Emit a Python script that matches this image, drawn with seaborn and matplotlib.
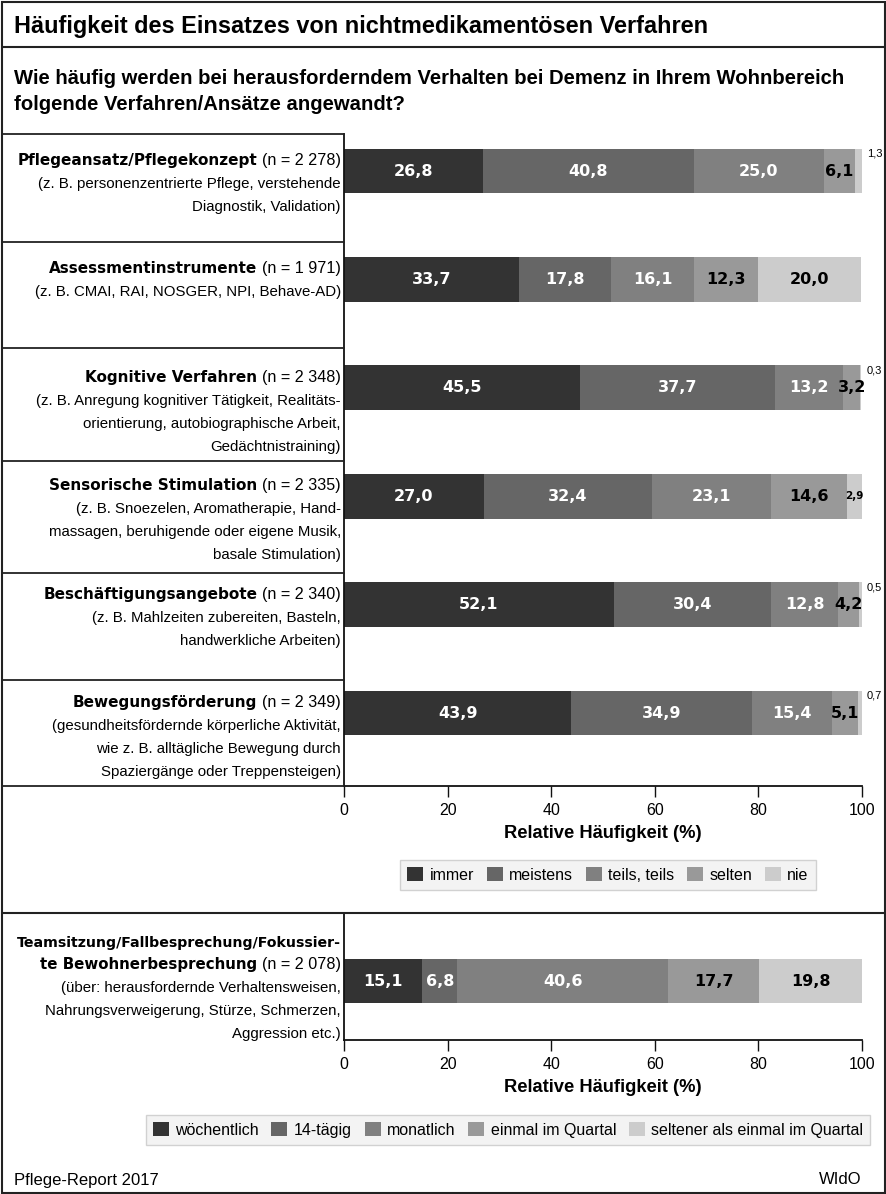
import matplotlib
matplotlib.use('Agg')
import matplotlib.pyplot as plt
import seaborn as sns
import pandas as pd
import numpy as np
from matplotlib.patches import Patch, Rectangle
from matplotlib.lines import Line2D

# ---------------- data ----------------
categories = ["Pflegeansatz/Pflegekonzept", "Assessmentinstrumente", "Kognitive Verfahren",
              "Sensorische Stimulation", "Beschäftigungsangebote", "Bewegungsförderung"]
n_labels = ["2 278", "1 971", "2 348", "2 335", "2 340", "2 349"]
descriptions = [
    ["(z. B. personenzentrierte Pflege, verstehende", "Diagnostik, Validation)"],
    ["(z. B. CMAI, RAI, NOSGER, NPI, Behave-AD)"],
    ["(z. B. Anregung kognitiver Tätigkeit, Realitäts-", "orientierung, autobiographische Arbeit,",
     "Gedächtnistraining)"],
    ["(z. B. Snoezelen, Aromatherapie, Hand-", "massagen, beruhigende oder eigene Musik,",
     "basale Stimulation)"],
    ["(z. B. Mahlzeiten zubereiten, Basteln,", "handwerkliche Arbeiten)"],
    ["(gesundheitsfördernde körperliche Aktivität,", "wie z. B. alltägliche Bewegung durch",
     "Spaziergänge oder Treppensteigen)"],
]
series_names = ["immer", "meistens", "teils, teils", "selten", "nie"]
immer = [26.8, 33.7, 45.5, 27.0, 52.1, 43.9]
meistens = [40.8, 17.8, 37.7, 32.4, 30.4, 34.9]
teils = [25.0, 16.1, 13.2, 23.1, 12.8, 15.4]
selten = [6.1, 12.3, 3.2, 14.6, 4.2, 5.1]
nie = [1.3, 20.0, 0.3, 2.9, 0.5, 0.7]

team_bold = ["Teamsitzung/Fallbesprechung/Fokussier-", "te Bewohnerbesprechung"]
team_n = "2 078"
team_desc = ["(über: herausfordernde Verhaltensweisen,", "Nahrungsverweigerung, Stürze, Schmerzen,",
             "Aggression etc.)"]
team_series = ["wöchentlich", "14-tägig", "monatlich", "einmal im Quartal",
               "seltener als einmal im Quartal"]
team_values = [15.1, 6.8, 40.6, 17.7, 19.8]

title = "Häufigkeit des Einsatzes von nichtmedikamentösen Verfahren"
subtitle = ["Wie häufig werden bei herausforderndem Verhalten bei Demenz in Ihrem Wohnbereich",
            "folgende Verfahren/Ansätze angewandt?"]
xlabel = "Relative Häufigkeit (%)"
xticks = [0, 20, 40, 60, 80, 100]
footer_left = "Pflege-Report 2017"
footer_right = "WIdO"

colors = ["#333333", "#666666", "#808080", "#999999", "#cccccc"]
text_colors = ["white", "white", "white", "black", "black"]

# ---------------- setup ----------------
sns.set_theme(style="white")
FONT = ["Liberation Sans", "DejaVu Sans"]
BOLD_FONT = ["DejaVu Sans"]
plt.rcParams["font.family"] = FONT
plt.rcParams["text.color"] = "black"

W, H = 887, 1194
fig = plt.figure(figsize=(W / 100, H / 100), dpi=100)


def fx(px):
    return px / W


def fy(py):
    return 1 - py / H


def fline(x0, x1, y0, y1, lw=1.3, color="#222222"):
    fig.add_artist(Line2D([fx(x0), fx(x1)], [fy(y0), fy(y1)], transform=fig.transFigure,
                          color=color, lw=lw))


UNIT = 108.4  # px per category
BAR_W = 0.415
LBL = 10.8
BLBL = 11.0
NLBL = 11.6


def fmt(v):
    return f"{v:.1f}".replace(".", ",")


def stacked(ax, cats, matrix):
    matrix = np.array(matrix)  # shape (n_series, n_cats)
    cum = np.cumsum(matrix, axis=0)
    df = pd.DataFrame({"cat": cats})
    for j in range(len(matrix) - 1, -1, -1):
        df["v"] = cum[j]
        sns.barplot(data=df, x="v", y="cat", color=colors[j], orient="h", width=BAR_W,
                    saturation=1, linewidth=0, ax=ax, errorbar=None)
    return matrix, cum


def value_labels(ax, matrix, cum, small_out=2.5, small_in=3.0):
    for i in range(matrix.shape[1]):
        for j in range(matrix.shape[0]):
            v = matrix[j, i]
            left = cum[j, i] - v
            mid = left + v / 2
            if v < small_out:
                ax.text(cum[j, i] + 0.9, i - 0.16, fmt(v), ha="left", va="center",
                        fontsize=8, color="black", clip_on=False)
            elif v < small_in:
                ax.text(mid, i, fmt(v), ha="center", va="center", fontsize=7.5,
                        fontweight="bold", color=text_colors[j], family=BOLD_FONT)
            else:
                ax.text(mid, i, fmt(v), ha="center", va="center", fontsize=11.5,
                        fontweight="bold", color=text_colors[j], family=BOLD_FONT)


def style_axis(ax):
    ax.set_xlim(0, 100)
    ax.set_yticks([])
    ax.set_ylabel("")
    for s in ["top", "right"]:
        ax.spines[s].set_visible(False)
    for s in ["left", "bottom"]:
        ax.spines[s].set_visible(True)
        ax.spines[s].set_color("#111111")
        ax.spines[s].set_linewidth(1.3)
    ax.set_xticks(xticks)
    ax.set_xticklabels([str(t) for t in xticks])
    ax.tick_params(axis="x", direction="out", length=8, width=1, color="#111111",
                   labelsize=11.5, pad=4, bottom=True, labelcolor="black")
    ax.set_xlabel(xlabel, fontsize=13.2, fontweight="bold", labelpad=5, color="black")
    ax.set_facecolor("none")


# ---------------- panel 1 ----------------
ax1 = fig.add_axes([fx(344), fy(786), fx(862) - fx(344), fy(134) - fy(786)])
m1, c1 = stacked(ax1, categories, [immer, meistens, teils, selten, nie])
ax1.set_ylim((786 - 171) / UNIT, (134 - 171) / UNIT)
style_axis(ax1)
value_labels(ax1, m1, c1)

# ---------------- panel 2 ----------------
TEAM_C = 981
ax2 = fig.add_axes([fx(344), fy(1040), fx(862) - fx(344), fy(913) - fy(1040)])
m2, c2 = stacked(ax2, ["Team"], [[v] for v in team_values])
ax2.set_ylim((1040 - TEAM_C) / UNIT, (913 - TEAM_C) / UNIT)
style_axis(ax2)
value_labels(ax2, m2, c2, small_out=0, small_in=0)

# ---------------- labels ----------------
renderer = fig.canvas.get_renderer()
XR = 341
LS = 23


def mixed_line(y_c, bold, normal, size=NLBL, bsize=BLBL):
    yb = y_c + 5
    w = 0
    if normal:
        t = fig.text(fx(XR), fy(yb), normal, ha="right", va="baseline", fontsize=size)
        w = t.get_window_extent(renderer).width + 5
    if bold:
        fig.text(fx(XR - w), fy(yb), bold, ha="right", va="baseline", fontsize=bsize,
                 fontweight="bold", family=BOLD_FONT)


def plain_line(y_c, text, size=LBL):
    fig.text(fx(XR), fy(y_c + 5), text, ha="right", va="baseline", fontsize=size)


for i, (cat, n, desc) in enumerate(zip(categories, n_labels, descriptions)):
    yc = 171 + UNIT * i - 11
    mixed_line(yc, cat, f"(n = {n})")
    for k, d in enumerate(desc):
        plain_line(yc + LS * (k + 1), d)

yc = 942
mixed_line(yc, team_bold[0], "", bsize=10.2)
mixed_line(yc + 22, team_bold[1], f"(n = {team_n})", bsize=10.8)
for k, d in enumerate(team_desc):
    plain_line(yc + 22 + 23 * (k + 1), d)

# ---------------- frame & rules ----------------
fig.add_artist(Rectangle((fx(2), fy(1193)), fx(885) - fx(2), fy(2) - fy(1193),
                         transform=fig.transFigure, fill=False, edgecolor="#222222", lw=1.5))
fline(2, 885, 47, 47, lw=1.5)
fline(2, 885, 913, 913, lw=1.5)
for ysep in [134, 242, 348, 461, 573, 680, 786]:
    fline(3, 344, ysep, ysep, lw=1.3)

# ---------------- titles ----------------
fig.text(fx(14), fy(27), title, ha="left", va="center", fontsize=16.9, fontweight="bold")
fig.text(fx(14), fy(79), subtitle[0], ha="left", va="center", fontsize=14.6, fontweight="bold")
fig.text(fx(14), fy(104), subtitle[1], ha="left", va="center", fontsize=14.6, fontweight="bold")

# ---------------- legends ----------------
h1 = [Patch(facecolor=c, edgecolor="none", label=l) for c, l in zip(colors, series_names)]
leg1 = fig.legend(handles=h1, loc="center", bbox_to_anchor=(fx(608), fy(875)), ncol=5,
                  frameon=True, fancybox=False, facecolor="#f0f0f0", edgecolor="#c8c8c8",
                  fontsize=11.5, handlelength=1.0, handleheight=1.0, handletextpad=0.4,
                  columnspacing=0.8, borderpad=0.45)
leg1.get_frame().set_linewidth(1.0)
h2 = [Patch(facecolor=c, edgecolor="none", label=l) for c, l in zip(colors, team_series)]
leg2 = fig.legend(handles=h2, loc="center", bbox_to_anchor=(fx(508), fy(1130)), ncol=5,
                  frameon=True, fancybox=False, facecolor="#f0f0f0", edgecolor="#c8c8c8",
                  fontsize=11.5, handlelength=1.0, handleheight=1.0, handletextpad=0.4,
                  columnspacing=0.8, borderpad=0.45)
leg2.get_frame().set_linewidth(1.0)

# ---------------- footer ----------------
fig.text(fx(14), fy(1180), footer_left, ha="left", va="center", fontsize=12)
fig.text(fx(862), fy(1180), footer_right, ha="right", va="center", fontsize=12)

fig.savefig("out.png", dpi=100)
